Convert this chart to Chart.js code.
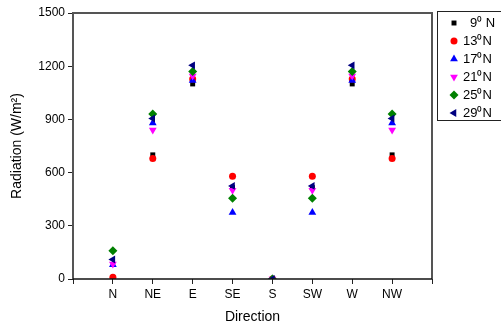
<!DOCTYPE html>
<html><head><meta charset="utf-8">
<script src="https://cdn.jsdelivr.net/npm/chart.js@4/dist/chart.umd.min.js"></script>
<style>html,body{margin:0;padding:0;background:#fff}#w{width:501px;height:332px}</style>
</head><body><div id="w"><canvas id="c"></canvas></div>
<script>
const directions = ['N','NE','E','SE','S','SW','W','NW'];
const yTicks = [0,300,600,900,1200,1500];
const seriesNames = ['9\u2070 N','13\u2070N','17\u2070N','21\u2070N','25\u2070N','29\u2070N'];
const lat9  = [5,  700, 1100, 515, 0,  515, 1100, 700];
const lat13 = [10, 680, 1128, 580, 0,  580, 1128, 680];
const lat17 = [80, 880, 1120, 375, 0,  375, 1120, 880];
const lat21 = [85, 840, 1145, 500, 0,  500, 1145, 840];
const lat25 = [160,930, 1170, 455, 0,  455, 1170, 930];
const lat29 = [110,905, 1205, 525, 0,  525, 1205, 905];
const seriesValues = [lat9, lat13, lat17, lat21, lat25, lat29];

const styles = [
  {color:'#000000', pointStyle:'rect', rotation:0, r:3.5},
  {color:'#ff0000', pointStyle:'circle', rotation:0, r:3.5},
  {color:'#0000ff', pointStyle:'triangle', rotation:0, r:4.5},
  {color:'#ff00ff', pointStyle:'triangle', rotation:180, r:4.5},
  {color:'#008000', pointStyle:'rectRot', rotation:0, r:4.5},
  {color:'#000080', pointStyle:'triangle', rotation:-90, r:4.5}
];

const datasets = seriesValues.map((vals,i)=>({
  label: seriesNames[i],
  data: vals.map((v,j)=>({x:j+1,y:v})),
  pointStyle: styles[i].pointStyle,
  rotation: styles[i].rotation,
  pointRadius: styles[i].r,
  backgroundColor: styles[i].color,
  borderColor: styles[i].color,
  borderWidth: 0,
  showLine:false,
  order: 5-i
}));

const framePlugin = {
  id:'frame',
  afterDatasetsDraw(chart){
    const {ctx, chartArea:a} = chart;
    ctx.save();
    ctx.strokeStyle='#555';
    ctx.lineWidth=2;
    ctx.beginPath();
    ctx.moveTo(a.left,a.bottom);ctx.lineTo(a.left,a.top);ctx.lineTo(a.right,a.top);ctx.lineTo(a.right,a.bottom);
    ctx.stroke();
    ctx.strokeStyle='#111';
    ctx.lineWidth=1.5;
    ctx.beginPath();ctx.moveTo(a.left,a.bottom);ctx.lineTo(a.right,a.bottom);ctx.stroke();
    // legend
    const lx=437, ly=11, lw=70, lh=109;
    ctx.fillStyle='#fff';
    ctx.fillRect(lx,ly,lw,lh);
    ctx.strokeStyle='#222';ctx.lineWidth=1;
    ctx.strokeRect(lx+0.5,ly+0.5,lw,lh);
    ctx.font='13px "Liberation Sans", Arial, sans-serif';
    ctx.textBaseline='middle';
    ctx.textAlign='left';
    seriesNames.forEach((n,i)=>{
      const y = 23 + i*18;
      const s = styles[i];
      ctx.fillStyle=s.color;ctx.strokeStyle=s.color;
      Chart.helpers.drawPoint(ctx,{pointStyle:s.pointStyle,rotation:s.rotation,radius:s.r,borderWidth:0},454,y);
      ctx.fillStyle='#000';
      ctx.fillText(n, i===0?470:463, y);
    });
    ctx.restore();
  }
};

new Chart(document.getElementById('c'),{
  type:'scatter',
  data:{datasets},
  plugins:[framePlugin],
  options:{
    responsive:true, maintainAspectRatio:false, animation:false,
    layout:{padding:{left:0,top:13,right:69,bottom:0}},
    plugins:{legend:{display:false},tooltip:{enabled:false}},
    scales:{
      x:{
        type:'linear', min:0, max:9,
        afterFit(s){s.height=53;},
        afterBuildTicks(s){s.ticks=[0,1,2,3,4,5,6,7,8,9].map(v=>({value:v}));},
        ticks:{autoSkip:false, maxRotation:0, color:'#000', padding:3,
          font:{family:'"Liberation Sans", Arial, sans-serif', size:12},
          callback:(v)=> directions[v-1] || ''},
        grid:{drawOnChartArea:false, drawTicks:true, tickLength:5, color:'#222', lineWidth:1},
        border:{display:false},
        title:{display:true, text:'Direction', color:'#000',
          font:{family:'"Liberation Sans", Arial, sans-serif', size:14},
          padding:{top:0,bottom:6}}
      },
      y:{
        min:0, max:1500,
        afterFit(s){s.width=73;},
        afterBuildTicks(s){s.ticks=yTicks.map(v=>({value:v}));},
        ticks:{color:'#000', padding:3,
          font:{family:'"Liberation Sans", Arial, sans-serif', size:12},
          callback:(v)=> String(v)},
        grid:{drawOnChartArea:false, drawTicks:true, tickLength:5, color:'#222', lineWidth:1},
        border:{display:false},
        title:{display:true, text:'Radiation (W/m\u00b2)', color:'#000',
          font:{family:'"Liberation Sans", Arial, sans-serif', size:14},
          padding:{top:9,bottom:0}}
      }
    }
  }
});
</script></body></html>
